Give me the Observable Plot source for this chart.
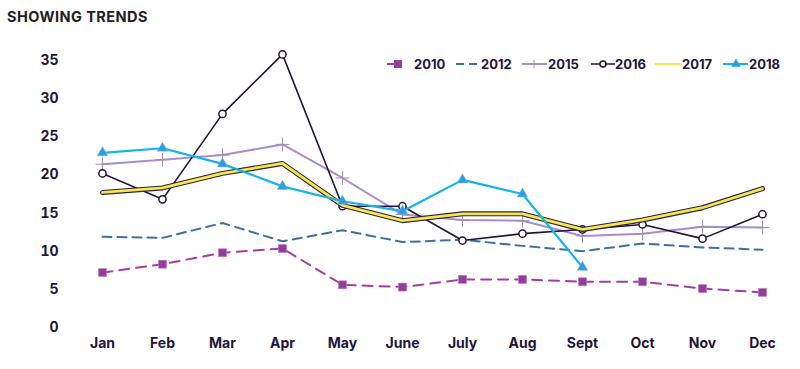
<!DOCTYPE html>
<html>
<head>
<meta charset="utf-8">
<script src="https://cdn.jsdelivr.net/npm/d3@7"></script>
<script src="https://cdn.jsdelivr.net/npm/@observablehq/plot@0.6"></script>
<style>
  body { margin: 0; background: #fff; }
  #wrap { position: relative; width: 800px; height: 369px; font-family: Inter, "Open Sans", sans-serif; }
  #title { position: absolute; left: 7px; top: 8px; font-weight: 700; font-size: 14.5px; letter-spacing: 0.45px; color: #222026; }
  #chart { position: absolute; left: 0; top: 40px; }
  #legend { position: absolute; left: 387px; top: 56px; display: flex; }
  .item { width: 67px; display: flex; align-items: center; font-weight: 700; font-size: 13px; color: #22153a; }
  .item svg { flex: none; }
</style>
</head>
<body>
<div id="wrap">
  <div id="title">SHOWING TRENDS</div>
  <div id="chart"></div>
  <div id="legend"></div>
</div>
<script>
const months = ["Jan","Feb","Mar","Apr","May","June","July","Aug","Sept","Oct","Nov","Dec"];
const years = ["2010","2012","2015","2016","2017","2018"];
const s2010 = [7.2, 8.3, 9.8, 10.35, 5.6, 5.3, 6.3, 6.3, 6.0, 6.0, 5.1, 4.6];
const s2012 = [11.9, 11.75, 13.7, 11.3, 12.75, 11.2, 11.5, 10.7, 10.0, 11.0, 10.5, 10.2];
const s2015 = [21.4, 22.0, 22.6, 24.0, 19.6, 14.8, 14.1, 14.0, 12.0, 12.3, 13.2, 13.1];
const s2016 = [20.2, 16.8, 28.0, 35.8, 15.9, 15.9, 11.4, 12.3, 12.85, 13.5, 11.65, 14.85];
const s2017 = [17.7, 18.3, 20.2, 21.5, 16.0, 14.0, 14.9, 14.9, 12.85, 14.1, 15.7, 18.2];
const s2018 = [22.9, 23.5, 21.45, 18.5, 16.55, 15.25, 19.35, 17.5, 7.9, null, null, null];
const yTicks = [0, 5, 10, 15, 20, 25, 30, 35];

const toRows = (vals) => months.map((m, i) => ({month: m, value: vals[i]})).filter(d => d.value != null);
const d2010 = toRows(s2010), d2012 = toRows(s2012), d2015 = toRows(s2015),
      d2016 = toRows(s2016), d2017 = toRows(s2017), d2018 = toRows(s2018);

const C = {
  c2010: "#a53bab", m2010: "#953c9c",
  c2012: "#3a70a6",
  c2015: "#a88dd2", m2015: "#9d8fae",
  c2016: "#23143a",
  c2017: "#f6e84a",
  c2018: "#14b3ea", m2018: "#2a9fe0",
  text: "#22153a"
};

const plot = Plot.plot({
  width: 800,
  height: 329,
  marginLeft: 100,
  marginRight: 37,
  marginTop: 20,
  marginBottom: 42,
  style: { fontFamily: "Inter, 'Open Sans', sans-serif", fontSize: "14px", fontWeight: 700, color: C.text, background: "transparent" },
  x: { type: "point", domain: months, padding: 0, label: null },
  y: { domain: [0, 35], label: null },
  marks: [
    Plot.axisY({ ticks: yTicks, tickSize: 0, tickPadding: 42, fontWeight: 700, fontSize: 14, fill: C.text }),
    Plot.axisX({ tickSize: 0, tickPadding: 11, fontWeight: 700, fontSize: 14, fill: C.text }),
    // 2010
    Plot.line(d2010, { x: "month", y: "value", stroke: C.c2010, strokeWidth: 2, strokeDasharray: "10,7" }),
    Plot.dot(d2010, { x: "month", y: "value", symbol: "square", r: 4.5, fill: C.m2010, stroke: "#b77cc0", strokeWidth: 0.6 }),
    // 2012
    Plot.line(d2012, { x: "month", y: "value", stroke: C.c2012, strokeWidth: 2, strokeDasharray: "9,6" }),
    // 2015
    Plot.line(d2015, { x: "month", y: "value", stroke: C.c2015, strokeWidth: 2 }),
    Plot.dot(d2015, { x: "month", y: "value", symbol: "plus", r: 4.5, stroke: C.m2015, strokeWidth: 1 }),
    // 2016
    Plot.line(d2016, { x: "month", y: "value", stroke: C.c2016, strokeWidth: 1.6 }),
    Plot.dot(d2016, { x: "month", y: "value", symbol: "circle", r: 3.6, fill: "#fff", stroke: C.c2016, strokeWidth: 1.5 }),
    // 2017
    Plot.line(d2017, { x: "month", y: "value", stroke: "#2b1e40", strokeWidth: 5 }),
    Plot.line(d2017, { x: "month", y: "value", stroke: C.c2017, strokeWidth: 2.8 }),
    // 2018
    Plot.line(d2018, { x: "month", y: "value", stroke: C.c2018, strokeWidth: 2.2 }),
    Plot.dot(d2018, { x: "month", y: "value", symbol: "triangle", r: 3.9, fill: C.m2018, stroke: "#8fb0e6", strokeWidth: 0.5 })
  ]
});
document.getElementById("chart").appendChild(plot);

// Legend
const legend = d3.select("#legend");
const swatch = {
  "2010": (g) => {
    g.append("line").attr("x1", 0).attr("x2", 12).attr("y1", 7).attr("y2", 7).attr("stroke", C.c2010).attr("stroke-width", 2);
    g.append("rect").attr("x", 7).attr("y", 3).attr("width", 8).attr("height", 8).attr("fill", C.m2010);
  },
  "2012": (g) => {
    g.append("line").attr("x1", 2).attr("x2", 24).attr("y1", 7).attr("y2", 7).attr("stroke", C.c2012).attr("stroke-width", 2).attr("stroke-dasharray", "8,5");
  },
  "2015": (g) => {
    g.append("line").attr("x1", 1).attr("x2", 26).attr("y1", 7).attr("y2", 7).attr("stroke", C.c2015).attr("stroke-width", 2);
    g.append("path").attr("d", "M13,3V11M9,7H17").attr("stroke", C.m2015).attr("stroke-width", 1);
  },
  "2016": (g) => {
    g.append("line").attr("x1", 3).attr("x2", 27).attr("y1", 7).attr("y2", 7).attr("stroke", C.c2016).attr("stroke-width", 1.5);
    g.append("circle").attr("cx", 15).attr("cy", 7).attr("r", 3).attr("fill", "#fff").attr("stroke", C.c2016).attr("stroke-width", 1.5);
  },
  "2017": (g) => {
    g.append("line").attr("x1", 0).attr("x2", 27).attr("y1", 7).attr("y2", 7).attr("stroke", C.c2017).attr("stroke-width", 2);
  },
  "2018": (g) => {
    g.append("line").attr("x1", 1).attr("x2", 26).attr("y1", 7).attr("y2", 7).attr("stroke", C.c2018).attr("stroke-width", 2);
    g.append("path").attr("d", d3.symbol(d3.symbolTriangle, 40)()).attr("transform", "translate(14,7)").attr("fill", C.m2018);
  }
};
years.forEach(y => {
  const item = legend.append("div").attr("class", "item");
  const svg = item.append("svg").attr("width", 27).attr("height", 14);
  swatch[y](svg);
  item.append("span").text(y);
});
</script>
</body>
</html>
